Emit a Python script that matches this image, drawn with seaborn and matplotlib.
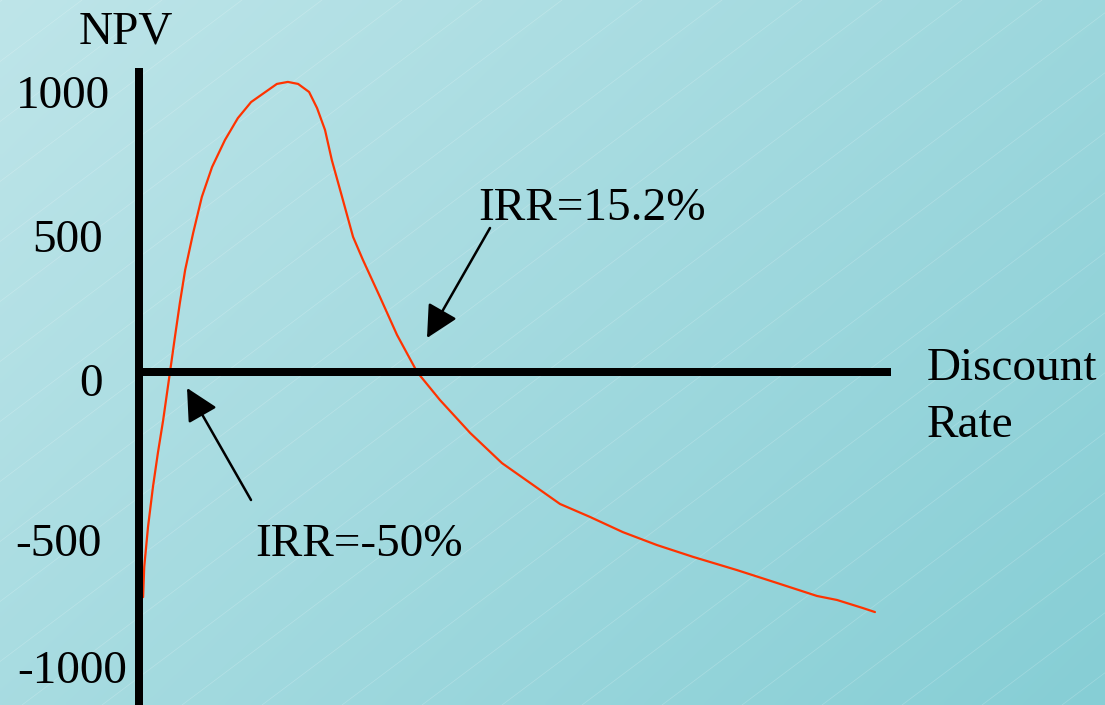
import numpy as np
import pandas as pd
import matplotlib
matplotlib.use("Agg")
import matplotlib.pyplot as plt
import seaborn as sns

# ---- data ----
discount_rate = [-57.1, -56.8, -55.8, -54.5, -53.2, -51.8, -50.0, -48.7, -47.4, -46.0, -43.9,
                 -41.6, -38.9, -35.5, -32.1, -28.6, -21.8, -18.9, -16.2, -13.3, -11.2,
                 -9.1, -7.3, -4.6, -1.7, 0.9, 5.4, 9.9, 15.2, 21.2, 29.2,
                 37.6, 45.8, 52.9, 60.8, 69.5, 78.5, 88.0, 99.6, 110.2, 120.7,
                 126.0, 132.8, 136.0]
npv = [-783, -678, -539, -400, -282, -167, 0, 122, 240, 355, 483,
       609, 713, 807, 883, 939, 1002, 1009, 1002, 974, 918,
       842, 737, 609, 470, 390, 261, 129, 0, -97, -212,
       -317, -393, -459, -504, -557, -602, -643, -689, -734, -779,
       -793, -821, -835]
ytick_labels = ["1000", "500", "0", "-500", "-1000"]
irr_labels = ["IRR=15.2%", "IRR=-50%"]
x_title = ["Discount", "Rate"]
y_title = "NPV"

df = pd.DataFrame({"rate": discount_rate, "npv": npv})

# ---- figure ----
W, H = 1105, 705
sns.set_theme(style="white")
plt.rcParams["font.family"] = ["Liberation Serif", "DejaVu Serif"]
plt.rcParams["text.color"] = "black"
fig = plt.figure(figsize=(W / 100, H / 100), dpi=100)

# background gradient + faint diagonal lines
bg = fig.add_axes([0, 0, 1, 1], zorder=0)
yy, xx = np.mgrid[0:1:200j, 0:1:300j]
t = (xx * 0.6 + yy * 0.4)
c0 = np.array([190, 229, 233]) / 255.0
c1 = np.array([134, 206, 213]) / 255.0
img = c0[None, None, :] * (1 - t[..., None]) + c1[None, None, :] * t[..., None]
bg.imshow(img, extent=[0, W, H, 0], aspect="auto", interpolation="bilinear")
for k in range(-12, 16):
    x0 = 22 + 80 * k
    bg.plot([x0, x0 + 705 / 0.75], [705, 0], color="white", lw=0.5, alpha=0.22)
bg.set_xlim(0, W)
bg.set_ylim(H, 0)
bg.axis("off")

# main axes mapped so that data positions match the reference pixels
ax = fig.add_axes([0, 0, 1, 1], zorder=1)
ax.set_facecolor("none")
px_per_rate = 3.79
px_per_npv = 0.2875
rate_at = lambda px: -50 + (px - 170) / px_per_rate
npv_at = lambda py: (372 - py) / px_per_npv
ax.set_xlim(rate_at(0), rate_at(W))
ax.set_ylim(npv_at(H), npv_at(0))

sns.lineplot(data=df, x="rate", y="npv", ax=ax, color="#ff3300", lw=1.6,
             estimator=None, sort=False)

spine_w = 8 * 72 / 100
for s in ["top", "right"]:
    ax.spines[s].set_visible(False)
ax.spines["left"].set_position(("data", rate_at(139)))
ax.spines["left"].set_bounds(npv_at(H + 5), npv_at(68))
ax.spines["bottom"].set_position(("data", 0))
ax.spines["bottom"].set_bounds(rate_at(135), rate_at(891))
for s in ["left", "bottom"]:
    ax.spines[s].set_linewidth(spine_w)
    ax.spines[s].set_color("black")
    ax.spines[s].set_capstyle("butt")
ax.set_xticks([])
ax.set_yticks([])
ax.set_xlabel("")
ax.set_ylabel("")

fs = 34
# y tick labels (layout positions in pixels: right edge, baseline)
tick_pos = [(110, 108), (103, 252), (103, 396), (102, 556), (127, 683)]
for lab, (px, py) in zip(ytick_labels, tick_pos):
    fig.text(px, H - py, lab, transform=None, ha="right", va="baseline",
             fontsize=fs, color="black")

fig.text(79, H - 43, y_title, transform=None, ha="left", va="baseline", fontsize=fs, color="black")
fig.text(927, H - 380, x_title[0], transform=None, ha="left", va="baseline", fontsize=fs, color="black")
fig.text(927, H - 437, x_title[1], transform=None, ha="left", va="baseline", fontsize=fs, color="black")

arrow_kw = dict(arrowstyle="-|>,head_length=0.55,head_width=0.28", color="black",
                lw=1.8, mutation_scale=36, shrinkA=0, shrinkB=0)
# IRR=15.2%
ax.annotate("", xy=(427, H - 338), xycoords="figure pixels",
            xytext=(490, H - 228), textcoords="figure pixels", arrowprops=arrow_kw)
fig.text(478, H - 220, irr_labels[0], transform=None, ha="left", va="baseline", fontsize=fs, color="black")
# IRR=-50%
ax.annotate("", xy=(187, H - 388), xycoords="figure pixels",
            xytext=(251, H - 500), textcoords="figure pixels", arrowprops=arrow_kw)
fig.text(255, H - 556, irr_labels[1], transform=None, ha="left", va="baseline", fontsize=fs, color="black")

fig.savefig("out.png", dpi=100)
